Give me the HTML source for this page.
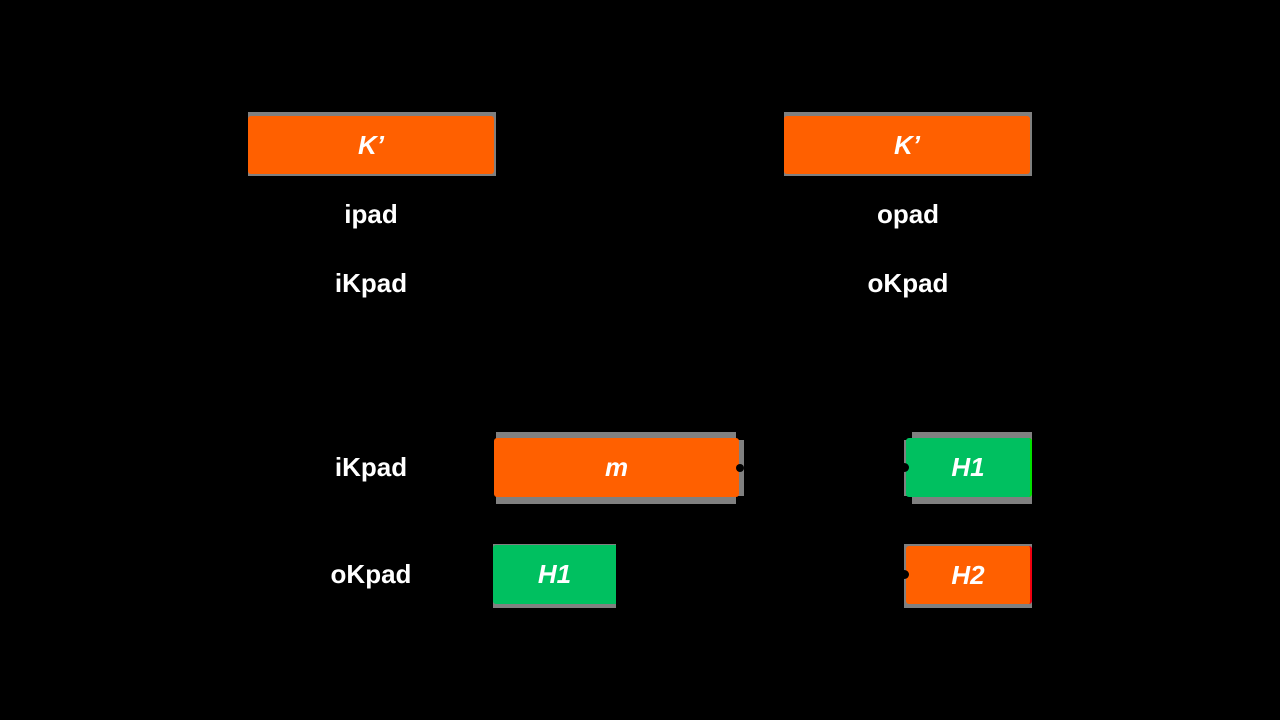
<!DOCTYPE html>
<html><head><style>
body{margin:0;width:1280px;height:720px;background:#000;position:relative;overflow:hidden;font-family:"Liberation Sans",sans-serif}
div{position:absolute;box-sizing:border-box}
.g{background:#808080}
.b{display:flex;align-items:center;justify-content:center;color:#fff;font-weight:bold;font-style:italic;font-size:26px;border-radius:3px}
.o{background:#ff6000}
.n{background:#00c060}
.t{color:#fff;font-weight:bold;font-size:26px;width:200px;text-align:center}
</style></head><body>
<div class="g" style="left:248px;top:112px;width:248px;height:64px"></div>
<div class="b o" style="left:248px;top:116px;width:246px;height:58px">K’</div>
<div class="g" style="left:784px;top:112px;width:248px;height:64px"></div>
<div class="b o" style="left:784px;top:116px;width:246px;height:58px">K’</div>
<div class="t" style="left:271px;top:199px">ipad</div>
<div class="t" style="left:808px;top:199px">opad</div>
<div class="t" style="left:271px;top:268px">iKpad</div>
<div class="t" style="left:808px;top:268px">oKpad</div>
<div class="t" style="left:271px;top:452px">iKpad</div>
<div class="t" style="left:271px;top:559px">oKpad</div>

<div class="g" style="left:496px;top:432px;width:240px;height:72px"></div>
<div class="g" style="left:736px;top:440px;width:8px;height:56px"></div>
<div class="b o" style="left:494px;top:438px;width:245px;height:59px">m</div>
<div style="left:736px;top:464px;width:8px;height:8px;background:#000;border-radius:4px"></div>

<div class="g" style="left:912px;top:432px;width:120px;height:72px"></div>
<div class="g" style="left:904px;top:440px;width:8px;height:56px"></div>
<div class="b n" style="left:906px;top:438px;width:126px;height:59px;border-right:2px solid #00e000">H1</div>
<div style="left:900px;top:463px;width:9px;height:9px;background:#000;border-radius:5px"></div>

<div class="g" style="left:493px;top:544px;width:123px;height:64px"></div>
<div class="b n" style="left:493px;top:545px;width:123px;height:59px;border-radius:3px 0 0 3px">H1</div>

<div class="g" style="left:904px;top:544px;width:128px;height:64px"></div>
<div class="b o" style="left:906px;top:546px;width:126px;height:58px;border-right:2px solid #f00010">H2</div>
<div style="left:900px;top:570px;width:9px;height:9px;background:#000;border-radius:5px"></div>
</body></html>
